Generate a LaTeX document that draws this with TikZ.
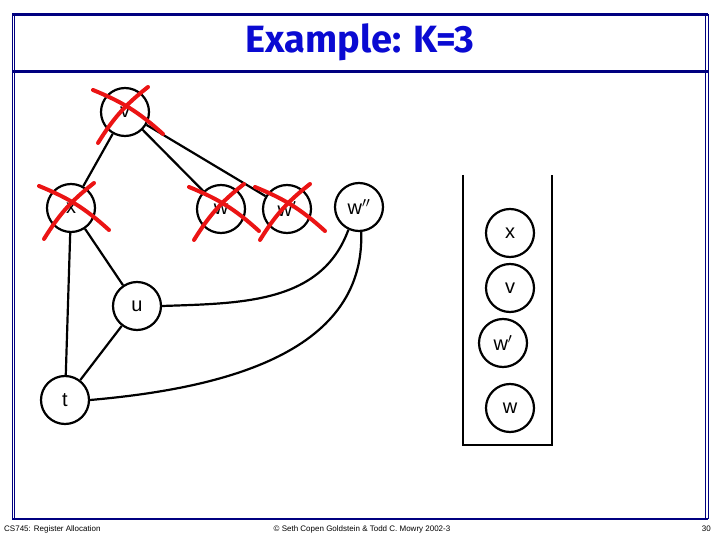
\documentclass[tikz,border=0pt]{standalone}
\usepackage{fontspec}
\setmainfont{Liberation Sans}
\newfontfamily\titlefont{Fira Sans}
\begin{document}
\begin{tikzpicture}[x=1pt,y=-1pt,
  vert/.style={circle,draw,line width=2.2pt,minimum size=48pt,inner sep=0pt,font=\fontsize{20}{22}\selectfont},
  edge/.style={line width=2.2pt},
  cross/.style={draw={rgb,255:red,235;green,20;blue,20},line width=4pt,line cap=round},
  frame/.style={draw={rgb,255:red,0;green,0;blue,128}}]
\useasboundingbox (0,0) rectangle (720,540);
% frame
\draw[frame,line width=0.8pt] (12,14) -- (12,519);
\draw[frame,line width=0.8pt] (14.5,14) -- (14.5,519);
\draw[frame,line width=0.8pt] (705.5,14) -- (705.5,519);
\draw[frame,line width=0.8pt] (708,14) -- (708,519);
\draw[frame,line width=3pt] (12,14.5) -- (708,14.5);
\draw[frame,line width=3pt] (12,71.5) -- (708,71.5);
\draw[frame,line width=2pt] (12,518.5) -- (708,518.5);
\node[font=\titlefont\bfseries\fontsize{38}{42}\selectfont,text={rgb,255:red,10;green,10;blue,210}] (title) at (360,42) {Example: K=3};
% footer
\node[anchor=west,font=\fontsize{8}{9}\selectfont,inner sep=0pt] (f1) at (4,529) {CS745: Register Allocation};
\node[font=\fontsize{8}{9}\selectfont,inner sep=0pt] (f2) at (362,529) {© Seth Copen Goldstein \& Todd C. Mowry 2002-3};
\node[anchor=east,font=\fontsize{8}{9}\selectfont,inner sep=0pt] (f3) at (711,529) {30};
% graph nodes
\node[vert] (v) at (125,112) {v};
\node[vert] (x) at (71,208) {x};
\node[vert] (w) at (221,209) {w};
\node[vert] (wp) at (287,209) {w$'$};
\node[vert] (wpp) at (359,207) {w$''$};
\node[vert] (u) at (137,306) {u};
\node[vert] (t) at (65,400) {t};
% edges
\draw[edge] (v) -- (x);
\draw[edge] (v) -- (w);
\draw[edge] (v) -- (wp);
\draw[edge] (x) -- (t);
\draw[edge] (x) -- (u);
\draw[edge] (u) -- (t);
\draw[edge] (u.east) to[out=2,in=-110] (wpp.-115);
\draw[edge] (t.east) to[out=5,in=-88] (wpp.-85);
% stack
\coordinate (s1) at (463,175);
\coordinate (s2) at (463,445);
\coordinate (s3) at (552,445);
\coordinate (s4) at (552,175);
\draw[edge] (s1) -- (s2) -- (s3) -- (s4);
\node[vert] (sx) at (510,233) {x};
\node[vert] (sv) at (510,288) {v};
\node[vert] (swp) at (503,343) {w$'$};
\node[vert] (sw) at (510,408) {w};
% red crosses
\foreach \n in {v,x,w,wp}{
  \draw[cross] ([shift={(-32,-22)}]\n.center) to[bend left=10] ([shift={(38,22)}]\n.center);
  \draw[cross] ([shift={(23,-25)}]\n.center) to[bend right=10] ([shift={(-27,31)}]\n.center);
}
\end{tikzpicture}
\end{document}
